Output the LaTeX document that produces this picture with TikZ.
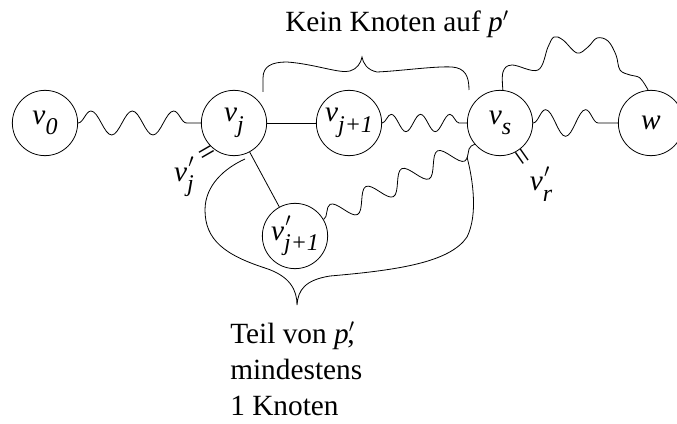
\documentclass[tikz,border=0pt]{standalone}
\usepackage{fontspec}
\setmainfont{Liberation Serif}
\usetikzlibrary{decorations.pathmorphing}
\newcommand\lsub[1]{\raisebox{-0.36em}{\fontsize{18}{18}\selectfont\itshape #1}}
\newcommand\lprime{\rlap{\raisebox{0.12em}{\kern0.04em$^{\prime}$}}}
\tikzset{
  vtx/.style={draw, circle, minimum size=49pt, inner sep=0pt, line width=0.6pt, font=\fontsize{22}{26}\selectfont},
  edge/.style={line width=0.6pt},
  wave/.style={line width=0.6pt, decorate, decoration={snake, segment length=#1, amplitude=8pt}},
  lbl/.style={font=\fontsize{22}{26}\selectfont, inner sep=0pt}
}
\begin{document}
\begin{tikzpicture}[x=0.75pt, y=-0.75pt]
\useasboundingbox (0,0) rectangle (677,424);
\node[vtx] (v0) at (45,123) {\textit{v}\lsub{0}};
\node[vtx] (vj) at (234,123) {\textit{v}\lsub{j}};
\node[vtx] (vj1) at (349,123) {\textit{v}\lsub{j+1}};
\node[vtx] (vs) at (500,123) {\textit{v}\lsub{s}};
\node[vtx] (w) at (651,123) {\textit{w}};
\node[vtx] (vp) at (295,236) {\textit{v}\lprime\lsub{j+1}};

\draw[wave=31pt, decoration={amplitude=9pt}] (v0) -- (vj);
\draw[edge] (vj) -- (vj1);
\draw[wave=22pt, decoration={amplitude=6.5pt}] (vj1) -- (vs);
\draw[wave=30pt, decoration={amplitude=10pt}] (vs) -- (w);
\draw[edge] (vj) -- (vp);
\draw[wave=30pt, decoration={amplitude=8pt}] (vp.30) -- (vs.220);

\draw[edge] plot[smooth, tension=0.6] coordinates {(vs.85) (503,72) (512,65) (538,70) (548,47) (554,37) (563,40) (577,53) (588,47) (597,38) (608,41) (616,55) (620,70) (630,75) (640,78) (w.95)};

% upper brace
\coordinate (ba) at (263,92);
\coordinate (bt) at (362,57);
\coordinate (bb) at (469,90);
\draw[edge] (ba) -- (263,78) .. controls (263,66) and (272,62) .. (287,62)
  .. controls (315,64) and (340,74) .. (350,71)
  .. controls (357,69) and (361,63) .. (bt)
  .. controls (363,63) and (367,70) .. (377,72)
  .. controls (400,71) and (435,66) .. (452,67)
  .. controls (465,68) and (469,76) .. (bb);
\node[lbl, anchor=base west] (t1) at (285,32) {Kein Knoten auf \textit{p}$^{\prime}$};

% lower brace
\coordinate (la) at (245,159);
\coordinate (lt) at (297,305);
\coordinate (lb) at (467,157);
\draw[edge] (la) .. controls (225,168) and (205,185) .. (205,210)
  .. controls (205,240) and (225,255) .. (265,268)
  .. controls (290,276) and (297,290) .. (lt)
  .. controls (298,290) and (305,280) .. (330,276)
  .. controls (400,270) and (450,262) .. (467,237)
  .. controls (478,215) and (473,180) .. (lb);
\node[lbl, anchor=base west, align=left, font=\fontsize{22}{27}\selectfont] (t2) at (230,415)
  {Teil von \textit{p}$^{\prime}$\kern-0.25em,\\mindestens\\1 Knoten};

% equal labels
\node[lbl] (eq1) at (208,155) [rotate=30] {=};
\node[lbl] (vjl) at (184,177) {\textit{v}\lprime\lsub{j}};
\node[lbl] (eq2) at (520,158) [rotate=-55] {=};
\node[lbl] (vrl) at (541,184) {\textit{v}\lprime\lsub{r}};
\end{tikzpicture}
\end{document}
